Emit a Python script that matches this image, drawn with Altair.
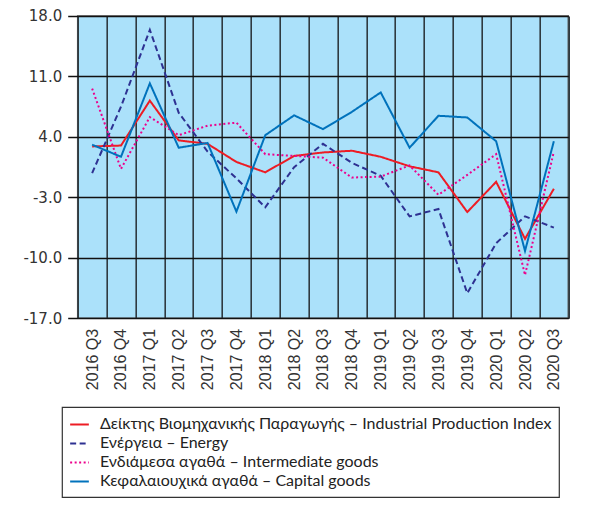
import altair as alt
import pandas as pd

quarters = ["2016 Q3", "2016 Q4", "2017 Q1", "2017 Q2", "2017 Q3", "2017 Q4",
            "2018 Q1", "2018 Q2", "2018 Q3", "2018 Q4", "2019 Q1", "2019 Q2",
            "2019 Q3", "2019 Q4", "2020 Q1", "2020 Q2", "2020 Q3"]

series = ["Δείκτης Βιομηχανικής Παραγωγής – Industrial Production Index",
          "Ενέργεια – Energy",
          "Ενδιάμεσα αγαθά – Intermediate goods",
          "Κεφαλαιουχικά αγαθά – Capital goods"]

ipi = [2.9, 3.0, 8.2, 3.6, 3.2, 1.1, -0.1, 1.8, 2.2, 2.4, 1.7, 0.6, -0.1, -4.7, -1.2, -7.8, -2.0]
energy = [-0.2, 7.5, 16.4, 6.8, 2.3, -0.8, -4.15, 0.5, 3.2, 1.0, -0.5, -5.2, -4.35, -14.1, -8.3, -5.2, -6.5]
intermediate = [9.6, 0.3, 6.3, 4.2, 5.3, 5.65, 2.0, 1.8, 1.6, -0.7, -0.6, 0.7, -2.7, -0.4, 2.0, -12.0, 2.3]
capital = [3.1, 1.7, 10.2, 2.75, 3.3, -4.65, 4.2, 6.5, 4.9, 6.9, 9.15, 2.75, 6.45, 6.25, 3.5, -9.2, 3.5]

y_ticks = [-17, -10, -3, 4, 11, 18]
colors = ["#ed1c24", "#2e3192", "#ec008c", "#0072bc"]
dashes = [[1, 0], [6, 3.5], [2, 2.5], [1, 0]]

rows = []
for name, vals in zip(series, [ipi, energy, intermediate, capital]):
    for q, v in zip(quarters, vals):
        rows.append({"quarter": q, "value": v, "series": name})
df = pd.DataFrame(rows)

legend = alt.Legend(
    title=None, orient="none", legendX=-15.7, legendY=391,
    padding=7, strokeColor="#333", fillColor="#ffffff",
    symbolType="stroke", symbolSize=350, symbolStrokeWidth=2,
    labelFont="Lato", labelFontSize=16, labelColor="#222",
    labelLimit=0, rowPadding=0, labelOffset=10,
)

chart = alt.Chart(df).mark_line(strokeWidth=2).encode(
    x=alt.X("quarter:N", sort=quarters,
            scale=alt.Scale(type="band", domain=quarters, paddingInner=0, paddingOuter=0),
            axis=alt.Axis(title=None, labelAngle=270, tickBand="extent", grid=True,
                          gridColor="#2f3a40", gridWidth=1.6, ticks=False, domain=False,
                          labelFont="Liberation Sans", labelFontSize=16, labelColor="#333",
                          labelPadding=10)),
    y=alt.Y("value:Q", scale=alt.Scale(domain=[-17, 18], nice=False, zero=False),
            axis=alt.Axis(values=y_ticks, title=None, grid=True,
                          labelExpr="replace(format(datum.value, '.1f'), '\u2212', '-')",
                          gridColor="#111", gridWidth=1.5, tickColor="#111", tickWidth=1.5,
                          tickSize=10, domain=False, labelFont="DejaVu Sans",
                          labelFontSize=15, labelColor="#333", labelPadding=6)),
    color=alt.Color("series:N", sort=series,
                    scale=alt.Scale(domain=series, range=colors), legend=legend),
    strokeDash=alt.StrokeDash("series:N", sort=series,
                              scale=alt.Scale(domain=series, range=dashes), legend=legend),
    order=alt.Order("series:N"),
).properties(
    width=490.6, height=302.3,
    autosize=alt.AutoSizeParams(type="none"),
    padding={"left": 69.7, "top": 8, "right": 10, "bottom": 190},
).configure_view(
    fill="#abe1fa", stroke="#555", strokeWidth=1.5
).configure_legend(
    strokeWidth=1.2
)

chart.save("out.html", embed_options={"renderer": "svg", "actions": False})
